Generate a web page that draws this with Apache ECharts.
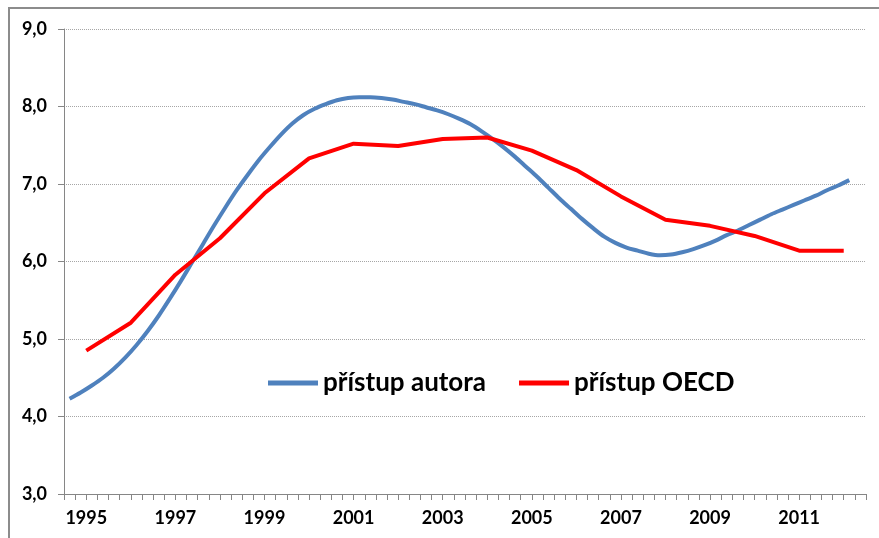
<!DOCTYPE html>
<html>
<head>
<meta charset="utf-8">
<script src="https://cdn.jsdelivr.net/npm/echarts@6/dist/echarts.min.js"></script>
<style>
  html, body { margin: 0; padding: 0; background: #fff; }
  #chart { width: 879px; height: 538px; }
</style>
</head>
<body>
<div id="chart"></div>
<script>
// years on the x axis, data is quarterly (author) and yearly (OECD)
const years = ['1995', '1996', '1997', '1998', '1999', '2000', '2001', '2002', '2003',
  '2004', '2005', '2006', '2007', '2008', '2009', '2010', '2011', '2012']

// přístup OECD, one value per year (mid-year)
const oecd = [4.85, 5.21, 5.83, 6.30, 6.88, 7.33, 7.52, 7.49, 7.58,
  7.60, 7.43, 7.18, 6.84, 6.54, 6.46, 6.33, 6.14, 6.14]

// přístup autora, quarterly from 1995 Q1 to 2012 Q3
const author = [
  4.23, 4.31, 4.40, 4.50, 4.62, 4.76, 4.92, 5.10, 5.30, 5.52,
  5.75, 5.99, 6.23, 6.47, 6.70, 6.92, 7.12, 7.31, 7.48, 7.64,
  7.78, 7.89, 7.97, 8.03, 8.08, 8.11, 8.12, 8.12, 8.11, 8.09,
  8.06, 8.03, 7.99, 7.95, 7.90, 7.84, 7.77, 7.68, 7.58, 7.47,
  7.35, 7.22, 7.09, 6.95, 6.81, 6.68, 6.55, 6.43, 6.32, 6.24,
  6.18, 6.14, 6.10, 6.08, 6.09, 6.12, 6.16, 6.21, 6.27, 6.34,
  6.40, 6.47, 6.54, 6.61, 6.67, 6.73, 6.79, 6.85, 6.92, 6.98,
  7.05
]

const names = ['přístup autora', 'přístup OECD']
const font = 'Lato, "DejaVu Sans", sans-serif'
const axisGray = '#868686'

const chart = echarts.init(document.getElementById('chart'))

// x axis counts quarters: quarter i sits in the middle of its slot, a year value in the middle of its 4 slots
const authorData = author.map((v, i) => [i + 0.5, v])
const oecdData = oecd.map((v, i) => [i * 4 + 2, v])

chart.setOption({
  animation: false,
  graphic: [{
    type: 'rect',
    shape: { x: 9, y: 8, width: 900, height: 600 },
    style: { fill: 'none', stroke: '#8c8c8c', lineWidth: 2 },
    silent: true
  }],
  grid: { left: 64, right: 13, top: 29, bottom: 44 },
  legend: {
    data: names,
    left: 263,
    top: 365,
    icon: 'rect',
    itemWidth: 50,
    itemHeight: 5,
    itemGap: 33,
    textStyle: { color: '#000', fontFamily: font, fontWeight: 'bold', fontSize: 26 }
  },
  xAxis: {
    type: 'value',
    min: 0,
    max: years.length * 4,
    interval: 1,
    axisLine: { lineStyle: { color: axisGray } },
    axisTick: { length: 6, lineStyle: { color: axisGray } },
    splitLine: { show: false },
    axisLabel: {
      margin: 15,
      color: '#000',
      fontFamily: font,
      fontWeight: 'bold',
      fontSize: 18,
      formatter: v => ((v - 2) % 8 === 0 ? years[(v - 2) / 4] : '')
    }
  },
  yAxis: {
    type: 'value',
    min: 3,
    max: 9,
    interval: 1,
    axisLine: { show: true, lineStyle: { color: axisGray } },
    axisTick: { show: true, length: 6, lineStyle: { color: axisGray } },
    splitLine: { lineStyle: { color: '#a6a6a6', type: 'dotted', width: 1 } },
    axisLabel: {
      margin: 17,
      color: '#000',
      fontFamily: font,
      fontWeight: 'bold',
      fontSize: 18,
      formatter: v => v.toFixed(1).replace('.', ',')
    }
  },
  series: [
    {
      name: names[0],
      type: 'line',
      data: authorData,
      color: '#4f81bd',
      symbol: 'none',
      smooth: 0.3,
      lineStyle: { width: 4, color: '#4f81bd' }
    },
    {
      name: names[1],
      type: 'line',
      data: oecdData,
      color: '#ff0000',
      symbol: 'none',
      lineStyle: { width: 4, color: '#ff0000' }
    }
  ]
})
</script>
</body>
</html>
